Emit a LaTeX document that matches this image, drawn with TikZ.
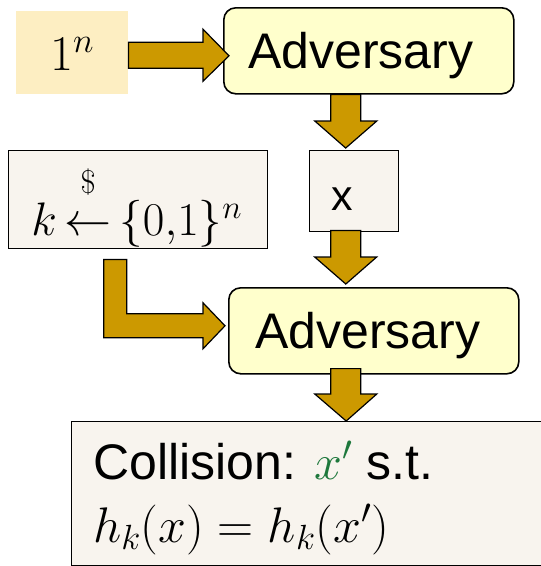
\RequirePackage{fix-cm}
\documentclass[tikz,border=0pt]{standalone}
\usepackage{amsmath}
\usepackage[no-math]{fontspec}
\setmainfont{Liberation Sans}
\usetikzlibrary{calc}
\definecolor{arrowgold}{RGB}{204,153,0}
\definecolor{advfill}{RGB}{255,255,204}
\definecolor{onefill}{RGB}{253,238,194}
\definecolor{boxfill}{RGB}{248,244,238}
\definecolor{xgreen}{RGB}{30,120,60}
\newcommand\harrowR[5]{\draw[blockarrow] let \p1=(#1), \p2=(#2) in
  (\x1,\y1+#3) -- (\x2-#5,\y1+#3) -- (\x2-#5,\y1+#4) -- (\x2,\y2) --
  (\x2-#5,\y1-#4) -- (\x2-#5,\y1-#3) -- (\x1,\y1-#3) -- cycle;}
\newcommand\varrowD[5]{\draw[blockarrow] let \p1=(#1), \p2=(#2) in
  (\x1-#3,\y1) -- (\x1-#3,\y2+#5) -- (\x1-#4,\y2+#5) -- (\x2,\y2) --
  (\x1+#4,\y2+#5) -- (\x1+#3,\y2+#5) -- (\x1+#3,\y1) -- cycle;}
\begin{document}
\begin{tikzpicture}[x=1pt,y=-1pt,
  advbox/.style={draw=black,line width=1.6pt,fill=advfill,rounded corners=12pt,
    inner sep=0pt,anchor=north west,text depth=0pt,
    minimum width=290pt,minimum height=86pt,font=\fontsize{50}{60}\selectfont},
  plainbox/.style={draw=black,line width=1.4pt,fill=boxfill,inner sep=0pt,anchor=north west},
  blockarrow/.style={draw=black,line width=1.2pt,fill=arrowgold,line join=miter}]
\useasboundingbox (0,0) rectangle (541,566);
\fill[white] (0,0) rectangle (541,566);
\clip (0,0) rectangle (541,566);

% boxes
\node[fill=onefill,inner sep=0pt,anchor=north west,minimum width=112pt,minimum height=83pt,
  text height=35pt,text depth=0pt,font=\fontsize{50}{60}\selectfont] (one) at (16,11) {$1^n$};
\node[advbox] (adv1) at (223,7) {Adversary\hspace*{16pt}};
\node[plainbox,minimum width=89pt,minimum height=81pt,text height=38pt,text depth=0pt,
  font=\fontsize{43}{50}\selectfont] (xb) at (309,150) {x\hspace*{24pt}};
\node[plainbox,minimum width=259pt,minimum height=98pt,text height=72pt,text depth=0pt,
  font=\fontsize{47}{56}\selectfont] (key) at (8,150)
  {$k\,{\stackrel{\raisebox{20pt}{$\scriptstyle\$$}}{\leftarrow}}\,\{0{,}1\}^n$\hspace*{3pt}};
\node[advbox] (adv2) at (228,287) {Adversary\hspace*{12pt}};
\node[plainbox,minimum width=489pt,minimum height=144pt] (coll) at (71,421) {};
\node[anchor=base west,inner sep=0pt,font=\fontsize{50}{60}\selectfont] (colla) at (93,479)
  {Collision: \textcolor{xgreen}{$x'$} s.t.};
\node[anchor=base west,inner sep=0pt,font=\fontsize{50}{60}\selectfont] (collb) at (93,542)
  {$h_k(x)=h_k(x')$};

% arrows
\coordinate (r1s) at ($(one.east)+(0,2.5)$);
\coordinate (r1t) at ($(adv1.west)+(6,5)$);
\harrowR{r1s}{r1t}{13pt}{26pt}{26pt}

\coordinate (d1s) at ($(adv1.south)+(-23,0)$);
\coordinate (d1t) at ($(xb.north)+(-8.5,-2)$);
\varrowD{d1s}{d1t}{15pt}{31pt}{27pt}

\coordinate (d2s) at ($(xb.south)+(-8.5,-2)$);
\coordinate (d2t) at ($(adv2.north)+(-28,-3)$);
\varrowD{d2s}{d2t}{15pt}{31pt}{27pt}

\coordinate (d3s) at ($(adv2.south)+(-28,-6)$);
\coordinate (d3t) at ($(coll.north)+(30,0)$);
\varrowD{d3s}{d3t}{15pt}{31pt}{27pt}

\coordinate (ls) at ($(key.south)+(-23,10)$);
\coordinate (lt) at ($(adv2.west)+(-3,-5)$);
\draw[blockarrow] let \p1=(ls), \p2=(lt) in
  (\x1-11.5pt,\y1) -- (\x1+11.5pt,\y1) -- (\x1+11.5pt,\y2+12pt) -- (\x2-22pt,\y2+12pt)
  -- (\x2-22pt,\y2+23pt) -- (\x2,\y2) -- (\x2-22pt,\y2-23pt) -- (\x2-22pt,\y2-12pt)
  -- (\x1-11.5pt,\y2-12pt) -- cycle;
\end{tikzpicture}
\end{document}
